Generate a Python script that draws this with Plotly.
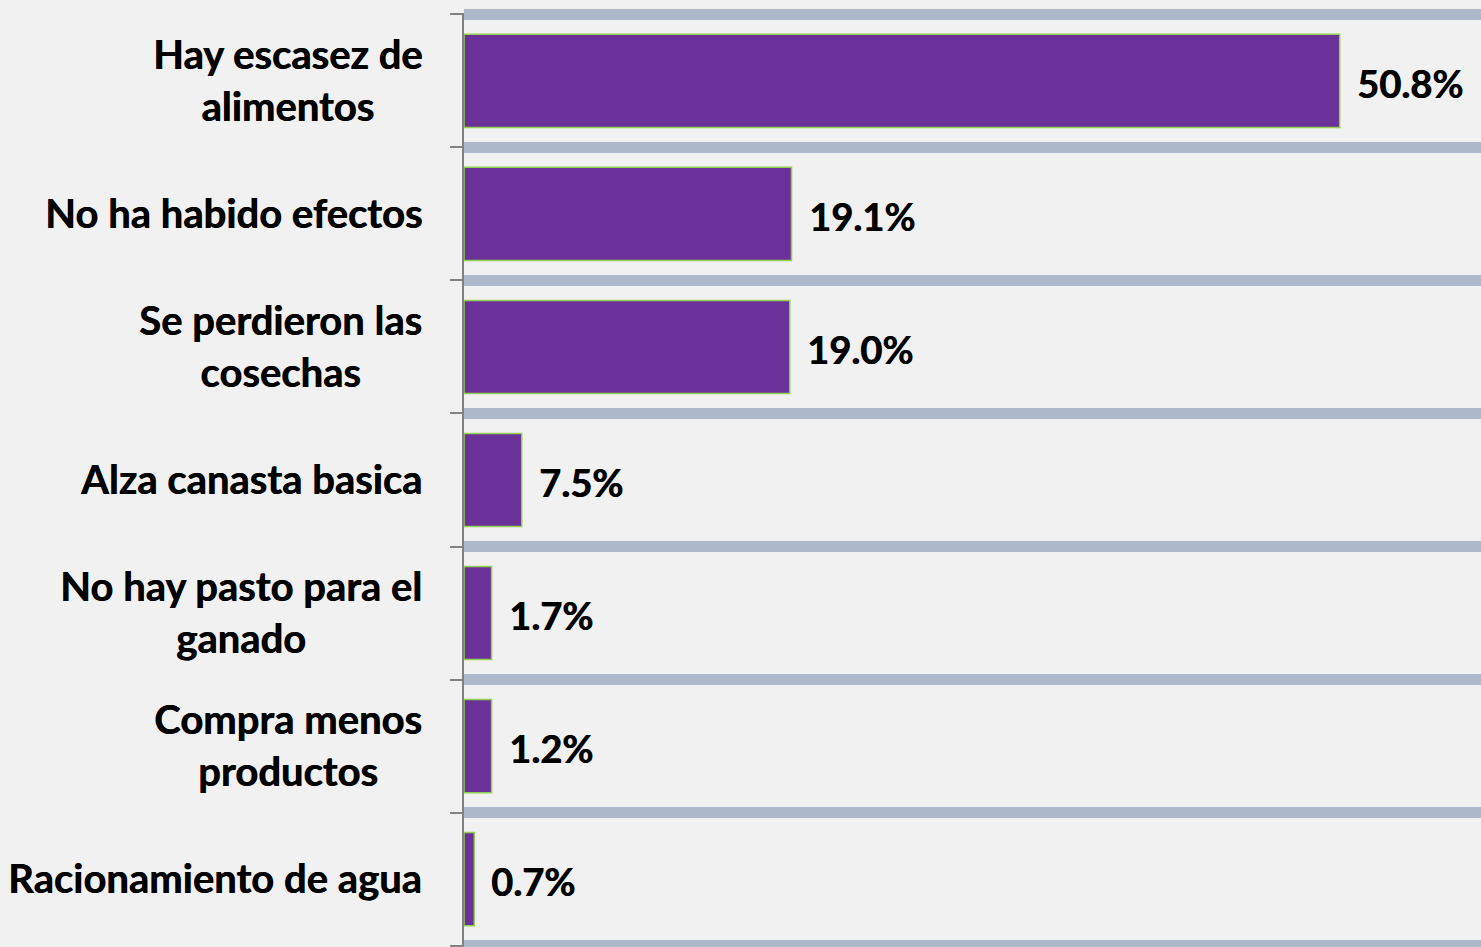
import plotly.graph_objects as go

categories = [
    "Hay escasez de<br>alimentos",
    "No ha habido efectos",
    "Se perdieron las<br>cosechas",
    "Alza canasta basica",
    "No hay pasto para el<br>ganado",
    "Compra menos<br>productos",
    "Racionamiento de agua",
]
# bar lengths as drawn in the picture (axis units)
bar_values = [50.8, 19.0, 18.9, 3.35, 1.6, 1.6, 0.6]
value_labels = ["50.8%", "19.1%", "19.0%", "7.5%", "1.7%", "1.2%", "0.7%"]

positions = list(range(len(categories)))
boundaries = [p - 0.5 for p in positions] + [positions[-1] + 0.5]

FONT = "Lato"
bar_color = "#6A3298"
edge_color = "#92D050"
band_color = "#ADB9CA"
bg = "#F1F1F1"
shadow = "0.6px 0 0 #000000"

fig = go.Figure(
    go.Bar(
        x=bar_values,
        y=positions,
        orientation="h",
        width=0.7,
        marker=dict(color=bar_color, line=dict(color=edge_color, width=1.5)),
        hoverinfo="skip",
    )
)

annotations = []
for p, cat in zip(positions, categories):
    annotations.append(dict(
        x=0, xref="paper", y=p, yref="y", text=cat, showarrow=False,
        xanchor="right", yanchor="middle", align="center", xshift=-40, yshift=1,
        font=dict(family=FONT, size=40, color="#000000", weight="bold", shadow=shadow),
    ))
for p, v, lab in zip(positions, bar_values, value_labels):
    annotations.append(dict(
        x=v, xref="x", y=p, yref="y", text=lab, showarrow=False,
        xanchor="left", yanchor="middle", xshift=15, yshift=-2,
        font=dict(family=FONT, size=38, color="#000000", weight="bold", shadow=shadow),
    ))

eps = 0.01
fig.update_layout(
    width=1481, height=947,
    margin=dict(l=464, r=0, t=13, b=0, pad=0),
    paper_bgcolor=bg, plot_bgcolor=bg,
    showlegend=False,
    annotations=annotations,
    xaxis=dict(range=[0, 59], showgrid=False, zeroline=False, showticklabels=False,
               ticks="", showline=False, fixedrange=True),
    yaxis=dict(range=[boundaries[-1] + eps, boundaries[0] - eps], showgrid=False, zeroline=False,
               tickvals=positions, showticklabels=False, ticks="",
               showline=True, linecolor="#808080", linewidth=2,
               minor=dict(tickmode="array", tickvals=boundaries, showgrid=True,
                          gridcolor=band_color, gridwidth=11, ticks="outside",
                          ticklen=12, tickwidth=2, tickcolor="#808080"),
               fixedrange=True),
)

fig.write_html("out.html", config={"displayModeBar": False},
               post_script="document.body.style.margin='0';document.body.style.background='%s';" % bg)
